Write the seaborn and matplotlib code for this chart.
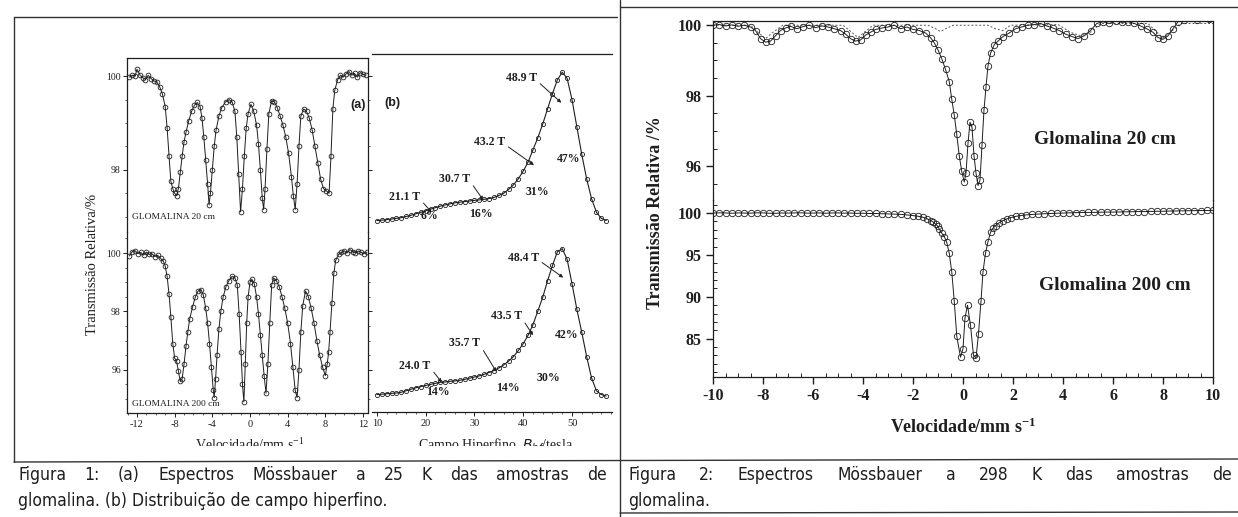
import numpy as np
import pandas as pd
import seaborn as sns
import matplotlib
matplotlib.use("Agg")
import matplotlib.pyplot as plt
from matplotlib.lines import Line2D
from matplotlib.ticker import MultipleLocator, FixedLocator
from matplotlib import font_manager as fm
from matplotlib.transforms import Bbox

# ---------------------------------------------------------------- data
# Fig 1(a) top: GLOMALINA 20 cm, 25 K
v_a20 = [-12.8, -12.5, -12.2, -12.0, -11.7, -11.4, -11.1, -10.8, -10.5, -10.2, -9.9, -9.6, -9.3, -9.0,
         -8.8, -8.6, -8.4, -8.2, -8.0, -7.8, -7.6, -7.4, -7.2, -7.0, -6.8, -6.5, -6.2, -5.9, -5.6,
         -5.3, -5.1, -4.9, -4.7, -4.5, -4.35, -4.2, -4.0, -3.8, -3.6, -3.3, -3.0, -2.6, -2.2, -1.9,
         -1.6, -1.4, -1.2, -1.0, -0.8, -0.6, -0.4, -0.2, 0.1, 0.4, 0.7, 0.9, 1.1, 1.3, 1.45, 1.6,
         1.8, 2.0, 2.3, 2.6, 2.9, 3.2, 3.5, 3.8, 4.1, 4.4, 4.6, 4.8, 5.0, 5.2, 5.4, 5.7, 6.0, 6.3,
         6.6, 6.9, 7.2, 7.5, 7.8, 8.1, 8.4, 8.6, 8.8, 9.0, 9.3, 9.6, 9.9, 10.2, 10.5, 10.8, 11.1,
         11.4, 11.7, 12.0, 12.3]
t_a20 = [99.98, 100.02, 100.0, 100.15, 100.03, 99.97, 99.93, 100.02, 99.95, 99.9, 99.88, 99.78, 99.62, 99.35,
         98.9, 98.3, 97.75, 97.6, 97.5, 97.45, 97.6, 97.95, 98.3, 98.6, 98.8, 99.05, 99.25, 99.38, 99.44,
         99.35, 99.1, 98.7, 98.2, 97.7, 97.25, 97.5, 98.0, 98.5, 98.85, 99.15, 99.33, 99.45, 99.5, 99.45,
         99.25, 98.7, 97.9, 97.1, 97.6, 98.3, 98.9, 99.2, 99.4, 99.25, 98.95, 98.55, 98.0, 97.4, 97.15, 97.6,
         98.45, 99.2, 99.48, 99.45, 99.32, 99.15, 98.95, 98.7, 98.35, 97.85, 97.45, 97.15, 97.7, 98.5, 99.15, 99.3, 99.25, 99.1,
         98.85, 98.5, 98.15, 97.8, 97.6, 97.55, 97.5, 98.3, 99.3, 99.7, 99.92, 100.02, 99.98, 100.05, 100.1, 100.02, 100.06,
         99.98, 100.08, 100.04, 100.02]

# Fig 1(a) bottom: GLOMALINA 200 cm, 25 K
v_a200 = [-12.8, -12.5, -12.2, -11.9, -11.6, -11.3, -11.0, -10.7, -10.4, -10.1, -9.8, -9.5, -9.2, -9.0,
          -8.8, -8.6, -8.4, -8.2, -8.0, -7.8, -7.6, -7.4, -7.2, -7.0, -6.8, -6.6, -6.4, -6.1, -5.8,
          -5.5, -5.2, -4.95, -4.7, -4.5, -4.3, -4.1, -3.9, -3.8, -3.65, -3.5, -3.3, -3.1, -2.85, -2.55,
          -2.25, -1.9, -1.6, -1.35, -1.15, -0.95, -0.8, -0.65, -0.5, -0.35, -0.2, 0.0, 0.2, 0.45, 0.7,
          0.9, 1.1, 1.3, 1.5, 1.7, 1.9, 2.1, 2.3, 2.5, 2.8, 3.1, 3.4, 3.7, 4.0, 4.3, 4.55, 4.8, 5.0,
          5.2, 5.4, 5.6, 5.9, 6.2, 6.5, 6.8, 7.1, 7.4, 7.7, 8.0, 8.2, 8.35, 8.5, 8.7, 8.9, 9.1, 9.4,
          9.7, 10.0, 10.3, 10.6, 10.9, 11.2, 11.5, 11.8, 12.1, 12.4]
t_a200 = [99.9, 100.05, 100.08, 99.98, 100.02, 99.93, 100.03, 99.95, 99.97, 99.88, 99.92, 99.82, 99.72, 99.55,
          99.2, 98.6, 97.8, 96.9, 96.4, 96.3, 95.95, 95.6, 95.7, 96.2, 96.8, 97.3, 97.75, 98.15, 98.5,
          98.7, 98.75, 98.55, 98.1, 97.6, 96.9, 96.1, 95.3, 95.05, 95.7, 96.5, 97.4, 98.0, 98.5, 98.85,
          99.05, 99.2, 99.15, 98.9, 97.9, 96.6, 95.5, 94.9, 96.2, 97.6, 98.5, 99.0, 99.1, 98.95, 98.5,
          97.9, 97.2, 96.5, 95.8, 95.2, 96.2, 97.6, 98.9, 99.15, 99.05, 98.85, 98.5, 98.1, 97.6, 96.9, 96.1, 95.3, 95.05,
          96.0, 97.3, 98.2, 98.7, 98.5, 98.1, 97.6, 97.0, 96.5, 96.1, 95.8, 96.2, 96.6, 97.3, 98.3, 99.3, 99.75, 99.95,
          100.02, 100.08, 100.0, 100.12, 100.05, 100.0, 100.07, 100.02, 99.98, 100.03]

# Fig 1(b): hyperfine field distributions (arbitrary units)
b_field = list(range(10, 58))
p_b20 = [0.025, 0.028, 0.031, 0.035, 0.04, 0.044, 0.052, 0.06, 0.07, 0.08, 0.09, 0.10, 0.11, 0.12,
         0.128, 0.135, 0.142, 0.146, 0.15, 0.154, 0.158, 0.161, 0.165, 0.17, 0.177, 0.19, 0.205, 0.23,
         0.26, 0.30, 0.35, 0.41, 0.49, 0.57, 0.66, 0.76, 0.86, 0.95, 1.0, 0.96, 0.82, 0.64, 0.46, 0.30,
         0.17, 0.08, 0.04, 0.025]
p_b200 = [0.03, 0.032, 0.035, 0.038, 0.04, 0.045, 0.055, 0.065, 0.075, 0.082, 0.09, 0.097, 0.104, 0.11,
          0.113, 0.117, 0.12, 0.124, 0.13, 0.138, 0.145, 0.153, 0.163, 0.175, 0.188, 0.205, 0.225, 0.25,
          0.28, 0.32, 0.365, 0.42, 0.49, 0.58, 0.67, 0.78, 0.88, 0.97, 0.99, 0.92, 0.76, 0.59, 0.44, 0.28,
          0.14, 0.055, 0.03, 0.02]

# Fig 2 top: Glomalina 20 cm, 298 K
v_r20 = [-10.0, -9.75, -9.5, -9.25, -9.0, -8.75, -8.5, -8.3, -8.1, -7.9, -7.7, -7.5, -7.3, -7.1, -6.9,
         -6.65, -6.4, -6.15, -5.9, -5.65, -5.4, -5.15, -4.9, -4.7, -4.5, -4.3, -4.1, -3.9, -3.7, -3.5,
         -3.25, -3.0, -2.75, -2.5, -2.25, -2.0, -1.75, -1.5, -1.3, -1.15, -1.0, -0.85, -0.7, -0.55,
         -0.45, -0.35, -0.25, -0.15, -0.05, 0.05, 0.12, 0.2, 0.28, 0.36, 0.44, 0.52, 0.6, 0.68, 0.76,
         0.84, 0.92, 1.0, 1.1, 1.25, 1.4, 1.6, 1.85, 2.1, 2.35, 2.6, 2.85, 3.1, 3.35, 3.6, 3.85, 4.1,
         4.35, 4.6, 4.85, 5.1, 5.35, 5.6, 5.85, 6.1, 6.35, 6.6, 6.85, 7.1, 7.35, 7.6, 7.8, 8.0, 8.2,
         8.4, 8.6, 8.85, 9.1, 9.35, 9.6, 9.85]
t_r20 = [100.0, 100.02, 99.98, 100.01, 99.97, 100.0, 99.95, 99.85, 99.62, 99.52, 99.55, 99.7, 99.85, 99.92, 99.97,
         99.9, 99.96, 100.0, 99.93, 99.98, 99.95, 99.9, 99.85, 99.75, 99.62, 99.55, 99.58, 99.72, 99.8, 99.88,
         99.92, 99.95, 100.0, 99.9, 99.95, 99.88, 99.85, 99.78, 99.65, 99.5, 99.3, 99.05, 98.75, 98.4,
         97.9, 97.45, 96.9, 96.3, 95.85, 95.55, 95.8, 96.65, 97.25, 97.1, 96.3, 95.8, 95.45, 95.6, 96.6,
         97.6, 98.25, 98.85, 99.2, 99.45, 99.55, 99.68, 99.78, 99.9, 99.95, 100.0, 100.02, 100.05, 99.98, 99.92, 99.85, 99.75,
         99.68, 99.62, 99.7, 99.85, 100.05, 100.1, 100.05, 100.12, 100.08, 100.1, 100.05, 99.98, 99.9, 99.8, 99.65, 99.6, 99.7,
         99.9, 100.1, 100.15, 100.2, 100.15, 100.2, 100.18]
# fitted magnetic sub-spectrum (dashed)
v_r20_sx = [-10.0, -8.5, -8.2, -7.9, -7.6, -7.2, -4.8, -4.45, -4.2, -3.95, -3.6, -1.4, -1.1, -0.9, -0.7,
            -0.4, 1.0, 1.3, 1.6, 1.9, 3.8, 4.3, 4.7, 5.1, 5.5, 7.4, 7.75, 8.0, 8.3, 8.7, 10.0]
t_r20_sx = [100.0, 100.0, 99.8, 99.62, 99.8, 100.0, 100.0, 99.8, 99.65, 99.8, 100.0, 100.0, 99.9, 99.82, 99.9,
            100.0, 100.0, 99.9, 99.85, 100.0, 100.02, 99.8, 99.7, 99.8, 100.05, 100.05, 99.8, 99.65, 99.8, 100.05, 100.05]

# Fig 2 bottom: Glomalina 200 cm, 298 K
v_r200 = [-10.0, -9.75, -9.5, -9.25, -9.0, -8.75, -8.5, -8.25, -8.0, -7.75, -7.5, -7.25, -7.0, -6.75,
          -6.5, -6.25, -6.0, -5.75, -5.5, -5.25, -5.0, -4.75, -4.5, -4.25, -4.0, -3.75, -3.5, -3.25,
          -3.0, -2.75, -2.5, -2.25, -2.0, -1.8, -1.6, -1.45, -1.3, -1.2, -1.1, -1.0, -0.95, -0.85,
          -0.75, -0.65, -0.55, -0.45, -0.35, -0.25, -0.1, 0.0, 0.08, 0.18, 0.3, 0.42, 0.52, 0.62, 0.72,
          0.8, 0.9, 1.0, 1.1, 1.2, 1.3, 1.45, 1.6, 1.75, 1.9, 2.1, 2.3, 2.5, 2.75, 3.0, 3.25, 3.5, 3.75,
          4.0, 4.25, 4.5, 4.75, 5.0, 5.25, 5.5, 5.75, 6.0, 6.25, 6.5, 6.75, 7.0, 7.25, 7.5, 7.75, 8.0,
          8.25, 8.5, 8.75, 9.0, 9.25, 9.5, 9.75, 10.0]
t_r200 = [100.0, 100.03, 100.01, 99.98, 100.02, 100.0, 99.99, 100.03, 100.02, 99.98, 99.97, 100.01, 100.0, 100.02,
          100.03, 99.99, 100.0, 100.02, 99.98, 100.01, 100.02, 99.99, 100.0, 99.97, 99.98, 99.95, 99.95, 99.92,
          99.9, 99.87, 99.85, 99.78, 99.7, 99.62, 99.5, 99.35, 99.1, 98.95, 98.7, 98.4, 98.1, 97.6,
          97.2, 96.5, 95.2, 93.0, 89.5, 85.3, 82.8, 83.8, 87.5, 89.0, 86.6, 83.0, 82.7, 85.6, 89.5,
          93.0, 95.2, 96.6, 97.7, 98.2, 98.5, 98.85, 99.1, 99.3, 99.45, 99.6, 99.7, 99.78, 99.83, 99.88, 99.92, 99.95, 99.98,
          100.0, 100.03, 100.05, 100.06, 100.08, 100.08, 100.1, 100.12, 100.12, 100.13, 100.15, 100.16, 100.18, 100.18, 100.2, 100.21, 100.22,
          100.24, 100.25, 100.26, 100.28, 100.29, 100.3, 100.31, 100.32]

# annotations of Fig 1(b)
ann_b20 = [("48.9 T", 39.6, 0.96, 47.8, 0.80), ("43.2 T", 33.1, 0.54, 42.2, 0.39),
           ("30.7 T", 25.9, 0.30, 31.8, 0.16), ("21.1 T", 15.7, 0.18, 21.2, 0.08)]
pct_b20 = [("6%", 20.8, 0.055), ("16%", 31.4, 0.07), ("31%", 42.9, 0.21), ("47%", 49.4, 0.43)]
ann_b200 = [("48.4 T", 40.0, 0.93, 48.2, 0.80), ("43.5 T", 36.5, 0.55, 42.0, 0.42),
            ("35.7 T", 28.0, 0.37, 34.5, 0.18), ("24.0 T", 17.8, 0.22, 23.3, 0.11)]
pct_b200 = [("14%", 22.6, 0.045), ("14%", 36.9, 0.07), ("30%", 45.1, 0.14), ("42%", 48.9, 0.42)]

caption1 = ["Figura 1: (a) Espectros Mössbauer a 25 K das amostras de",
            "glomalina. (b) Distribuição de campo hiperfino."]
caption2 = ["Figura 2: Espectros Mössbauer a 298 K das amostras de",
            "glomalina."]

# ---------------------------------------------------------------- style
sns.set_theme(style="ticks")
plt.rcParams['font.family'] = ['Liberation Serif', 'DejaVu Serif']
plt.rcParams['mathtext.default'] = 'regular'
plt.rcParams['axes.unicode_minus'] = False
plt.rcParams['axes.linewidth'] = 0.9
INK = '#1e1e1e'

W, H = 1238, 517
fig = plt.figure(figsize=(W / 100, H / 100), dpi=100)
fig.patch.set_facecolor('white')


def ax_px(l, t, r, b):
    return fig.add_axes([l / W, 1 - b / H, (r - l) / W, (b - t) / H])


def spectrum(ax, v, t, ms=3.6, lw=0.7):
    sns.lineplot(x=v, y=t, ax=ax, color=INK, lw=lw, marker='o', markersize=ms,
                 markerfacecolor='none', markeredgecolor=INK, markeredgewidth=0.6,
                 estimator=None, sort=False)


def style(ax, spines):
    for s in ['top', 'bottom', 'left', 'right']:
        ax.spines[s].set_visible(s in spines)
        ax.spines[s].set_color(INK)
    ax.set_xlabel('')
    ax.set_ylabel('')
    ax.set_facecolor('none')


# ---------------------------------------------------------------- Fig 1 (a)
a_top = ax_px(127, 58, 368, 232)
a_bot = ax_px(127, 232, 368, 413)
spectrum(a_top, v_a20, t_a20, ms=3.4)
spectrum(a_bot, v_a200, t_a200, ms=3.4)
for ax, lim, yt, sp in [(a_top, (96.67, 100.39), [98, 100], ['top', 'left', 'right']),
                        (a_bot, (94.52, 100.72), [96, 98, 100], ['left', 'right', 'bottom'])]:
    style(ax, sp)
    ax.set_xlim(-13.06, 12.53)
    ax.set_ylim(*lim)
    ax.yaxis.set_major_locator(FixedLocator(yt))
    ax.yaxis.set_minor_locator(MultipleLocator(0.5))
    ax.xaxis.set_major_locator(MultipleLocator(4))
    ax.xaxis.set_minor_locator(MultipleLocator(1))
    ax.tick_params(axis='y', which='major', direction='out', length=3, width=0.7, labelsize=7,
                   colors=INK, right=True, pad=1.5)
    ax.tick_params(axis='y', which='minor', direction='out', length=1.5, width=0.5, right=True)
    ax.tick_params(axis='x', which='major', direction='out', length=3, width=0.7, labelsize=7.5,
                   colors=INK, pad=2)
    ax.tick_params(axis='x', which='minor', direction='out', length=1.5, width=0.5)
a_top.tick_params(axis='x', which='both', bottom=False, labelbottom=False)
a_top.text(0.99, 0.73, '(a)', transform=a_top.transAxes, ha='right', va='center',
           fontsize=9, fontweight='bold', family='Liberation Sans', color=INK)
a_top.text(0.02, 0.085, 'GLOMALINA 20 cm', transform=a_top.transAxes, ha='left', va='center',
           fontsize=6.8, color=INK)
a_bot.text(0.02, 0.05, 'GLOMALINA 200 cm', transform=a_bot.transAxes, ha='left', va='center',
           fontsize=6.8, color=INK)

# ---------------------------------------------------------------- Fig 1 (b)
b_top = ax_px(372, 54, 612, 232)
b_bot = ax_px(372, 232, 612, 412)
spectrum(b_top, b_field, p_b20, ms=3.0, lw=0.8)
spectrum(b_bot, b_field, p_b200, ms=3.0, lw=0.8)
for ax, lim, sp in [(b_top, (-0.05, 1.12), ['top']), (b_bot, (-0.085, 1.10), ['bottom'])]:
    style(ax, sp)
    ax.set_xlim(9.0, 58.2)
    ax.set_ylim(*lim)
    ax.set_yticks([])
    ax.xaxis.set_major_locator(MultipleLocator(10))
    ax.xaxis.set_minor_locator(MultipleLocator(2))
    ax.tick_params(axis='x', which='major', direction='out', length=3, width=0.7, labelsize=7.5,
                   colors=INK, pad=2)
    ax.tick_params(axis='x', which='minor', direction='out', length=1.5, width=0.5)
b_top.tick_params(axis='x', which='both', bottom=False, top=False, labelbottom=False)
b_top.text(13.2, 0.80, '(b)', ha='center', va='center', fontsize=9, fontweight='bold',
           family='Liberation Sans', color=INK)
for ax, anns, pcts in [(b_top, ann_b20, pct_b20), (b_bot, ann_b200, pct_b200)]:
    for lab, tx, ty, px, py in anns:
        ax.annotate(lab, xy=(px, py), xytext=(tx, ty), ha='center', va='center',
                    fontsize=8.5, fontweight='bold', color=INK,
                    arrowprops=dict(arrowstyle='-|>', lw=0.7, color=INK, mutation_scale=5,
                                    shrinkA=0, shrinkB=0, relpos=(1.0, 0.3)))
    for lab, tx, ty in pcts:
        ax.text(tx, ty, lab, ha='center', va='center', fontsize=8.5, fontweight='bold', color=INK)

# Fig 1 axis labels
fig.text(93 / W, 1 - 264 / H, 'Transmissão Relativa/%', rotation=90, ha='center', va='center',
         fontsize=10.5, color=INK)
clip = Bbox.from_extents(0, H - 446, W, H)
for txt, x in [('Velocidade/mm s$^{-1}$', 250), ('Campo Hiperfino, $\\it{B}_{hf}$/tesla', 496)]:
    tt = fig.text(x / W, 1 - 445 / H, txt, ha='center', va='center', fontsize=10, color=INK)
    tt.set_clip_box(clip)
    tt.set_clip_on(True)

# ---------------------------------------------------------------- Fig 2
r_top = ax_px(713, 21, 1213, 200)
r_bot = ax_px(713, 200, 1213, 377)
sns.lineplot(x=v_r20_sx, y=t_r20_sx, ax=r_top, color='#555555', lw=0.7, linestyle=(0, (2, 2)),
             estimator=None, sort=False)
spectrum(r_top, v_r20, t_r20, ms=4.6)
spectrum(r_bot, v_r200, t_r200, ms=4.6)
for ax, lim, yt, minor, sp in [(r_top, (95.04, 100.12), [96, 98, 100], 0.5, ['top', 'left', 'right']),
                               (r_bot, (80.43, 101.56), [85, 90, 95, 100], 1.0, ['left', 'right', 'bottom'])]:
    style(ax, sp)
    ax.set_xlim(-10, 10)
    ax.set_ylim(*lim)
    ax.yaxis.set_major_locator(FixedLocator(yt))
    ax.yaxis.set_minor_locator(MultipleLocator(minor))
    ax.xaxis.set_major_locator(MultipleLocator(2))
    ax.xaxis.set_minor_locator(MultipleLocator(0.5))
    ax.tick_params(axis='both', which='major', direction='out', length=5, width=1.0, labelsize=11.5,
                   colors=INK, pad=3)
    ax.tick_params(axis='both', which='minor', direction='in', length=3, width=0.7)
    for lab in ax.get_xticklabels() + ax.get_yticklabels():
        lab.set_fontweight('bold')
r_top.tick_params(axis='x', which='both', bottom=False, labelbottom=False)
fig.text(1105 / W, 1 - 140 / H, 'Glomalina 20 cm', ha='center', va='center', fontsize=14,
         fontweight='bold', color=INK)
fig.text(1115 / W, 1 - 286 / H, 'Glomalina 200 cm', ha='center', va='center', fontsize=14,
         fontweight='bold', color=INK)
fig.text(655 / W, 1 - 213 / H, 'Transmissão Relativa /%', rotation=90, ha='center', va='center',
         fontsize=13, fontweight='bold', color=INK)
fig.text(963 / W, 1 - 427 / H, 'Velocidade/mm s$^{-1}$', ha='center', va='center', fontsize=13,
         fontweight='bold', color=INK)

# ---------------------------------------------------------------- frame lines
frame = [((14, 17), (14, 462)), ((14, 17), (617, 17)), ((620, 0), (620, 517)),
         ((620, 7), (1238, 7)), ((14, 462), (1238, 459)), ((620, 513), (1238, 512))]
for (x0, y0), (x1, y1) in frame:
    fig.add_artist(Line2D([x0 / W, x1 / W], [1 - y0 / H, 1 - y1 / H], color='#333333', lw=1.0))


# ---------------------------------------------------------------- captions
def pick_caption_font():
    cands = [('Liberation Sans Narrow', 'normal'), ('Arial Narrow', 'normal'),
             ('DejaVu Sans', 'condensed'), ('Noto Sans', 'condensed'),
             ('Roboto Condensed', 'normal'), ('Open Sans Condensed', 'normal')]
    for fam, st in cands:
        try:
            path = fm.findfont(fm.FontProperties(family=fam, stretch=st), fallback_to_default=False)
        except Exception:
            continue
        low = path.lower()
        if 'narrow' in low or 'condensed' in low:
            return fam, st, 12.5
    return 'Liberation Sans', 'normal', 12.0


cap_family, cap_stretch, cap_size = pick_caption_font()


def cap_text(x, y, s):
    return fig.text(x / W, 1 - y / H, s, ha='left', va='center', fontsize=cap_size,
                    family=cap_family, fontstretch=cap_stretch, color=INK)


def justified(line, x0, x1, y):
    words = line.split(' ')
    texts = [cap_text(0, y, w) for w in words]
    fig.canvas.draw()
    r = fig.canvas.get_renderer()
    widths = [t.get_window_extent(r).width for t in texts]
    gap = (x1 - x0 - sum(widths)) / (len(words) - 1)
    x = x0
    for t, w in zip(texts, widths):
        t.set_x(x / W)
        x += w + gap


justified(caption1[0], 18, 607, 475)
cap_text(18, 501, caption1[1])
justified(caption2[0], 628, 1232, 475)
cap_text(628, 501, caption2[1])

fig.savefig('out.png', dpi=100, facecolor='white')
